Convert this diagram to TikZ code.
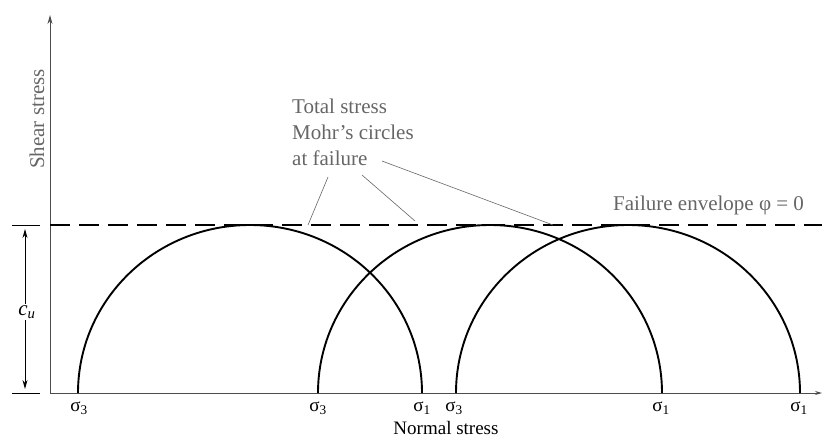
\documentclass[tikz,border=0pt]{standalone}
\usepackage{fontspec}
\setmainfont{Liberation Serif}
\usetikzlibrary{arrows.meta}
\begin{document}
\begin{tikzpicture}[x=1pt,y=-1pt,
  lbl/.style={font=\fontsize{19}{22}\selectfont, inner sep=1pt},
  glbl/.style={font=\fontsize{21}{26}\selectfont, inner sep=1pt, text=black!60},
  circ/.style={line width=1.9pt},
  axis/.style={line width=0.9pt, black!70},
  leader/.style={line width=0.6pt, black!60},
  env/.style={line width=1.8pt, dash pattern=on 20pt off 9pt}]
\useasboundingbox (0,0) rectangle (825,439);
% axes
\coordinate (O) at (50,393);
\coordinate (ytop) at (50,15);
\coordinate (xend) at (822,393);
\draw[axis,-{Stealth[length=9pt,width=5pt]}] (O) -- (ytop);
\draw[axis,-{Stealth[length=7pt,width=4pt]}] (O) -- (xend);
% failure envelope
\coordinate (e0) at (50,225);
\coordinate (e1) at (822,225);
\draw[env] (e0) -- (e1);
% Mohr circles
\draw[circ] (78,393) arc[start angle=180,end angle=360,x radius=172,y radius=168];
\draw[circ] (318,393) arc[start angle=180,end angle=360,x radius=172,y radius=168];
\draw[circ] (456,393) arc[start angle=180,end angle=360,x radius=172,y radius=168];
% c_u dimension
\coordinate (t1a) at (12,225); \coordinate (t1b) at (40,225);
\coordinate (t2a) at (12,393); \coordinate (t2b) at (40,393);
\draw[line width=0.9pt] (t1a) -- (t1b);
\draw[line width=0.9pt] (t2a) -- (t2b);
\node[lbl, font=\fontsize{21}{24}\selectfont] (cu) at (27,312) {\textit{c\textsubscript{u}}};
\coordinate (cutop) at (25,229);
\coordinate (cubot) at (25,389);
\draw[line width=0.9pt,-{Stealth[length=9pt,width=5pt]}] (cu.north -| cutop) -- (cutop);
\draw[line width=0.9pt,-{Stealth[length=9pt,width=5pt]}] (cu.south -| cubot) -- (cubot);
% axis labels
\node[glbl, rotate=90] (shear) at (37,119) {Shear stress};
\node[lbl] (normal) at (446,428) {Normal stress};
% sigma labels
\node[lbl] (s31) at (79,408) {σ\textsubscript{3}};
\node[lbl] (s32) at (318,408) {σ\textsubscript{3}};
\node[lbl] (s11) at (422,408) {σ\textsubscript{1}};
\node[lbl] (s33) at (454,408) {σ\textsubscript{3}};
\node[lbl] (s12) at (661,408) {σ\textsubscript{1}};
\node[lbl] (s13) at (799,408) {σ\textsubscript{1}};
% annotations
\node[glbl, align=left, anchor=north west, inner sep=0pt, font=\fontsize{21}{26}\selectfont] (tot) at (292,99) {Total stress\\Mohr's circles\\at failure};
\node[glbl, anchor=base west] (fail) at (612,210) {Failure envelope φ = 0};
\coordinate (p1) at (308,225);
\coordinate (p2) at (415,221);
\coordinate (p3) at (553,225);
\coordinate (q1) at (328,177);
\coordinate (q2) at (362,175);
\coordinate (q3) at (382,161);
\draw[leader] (q1) -- (p1);
\draw[leader] (q2) -- (p2);
\draw[leader] (q3) -- (p3);
\end{tikzpicture}
\end{document}
